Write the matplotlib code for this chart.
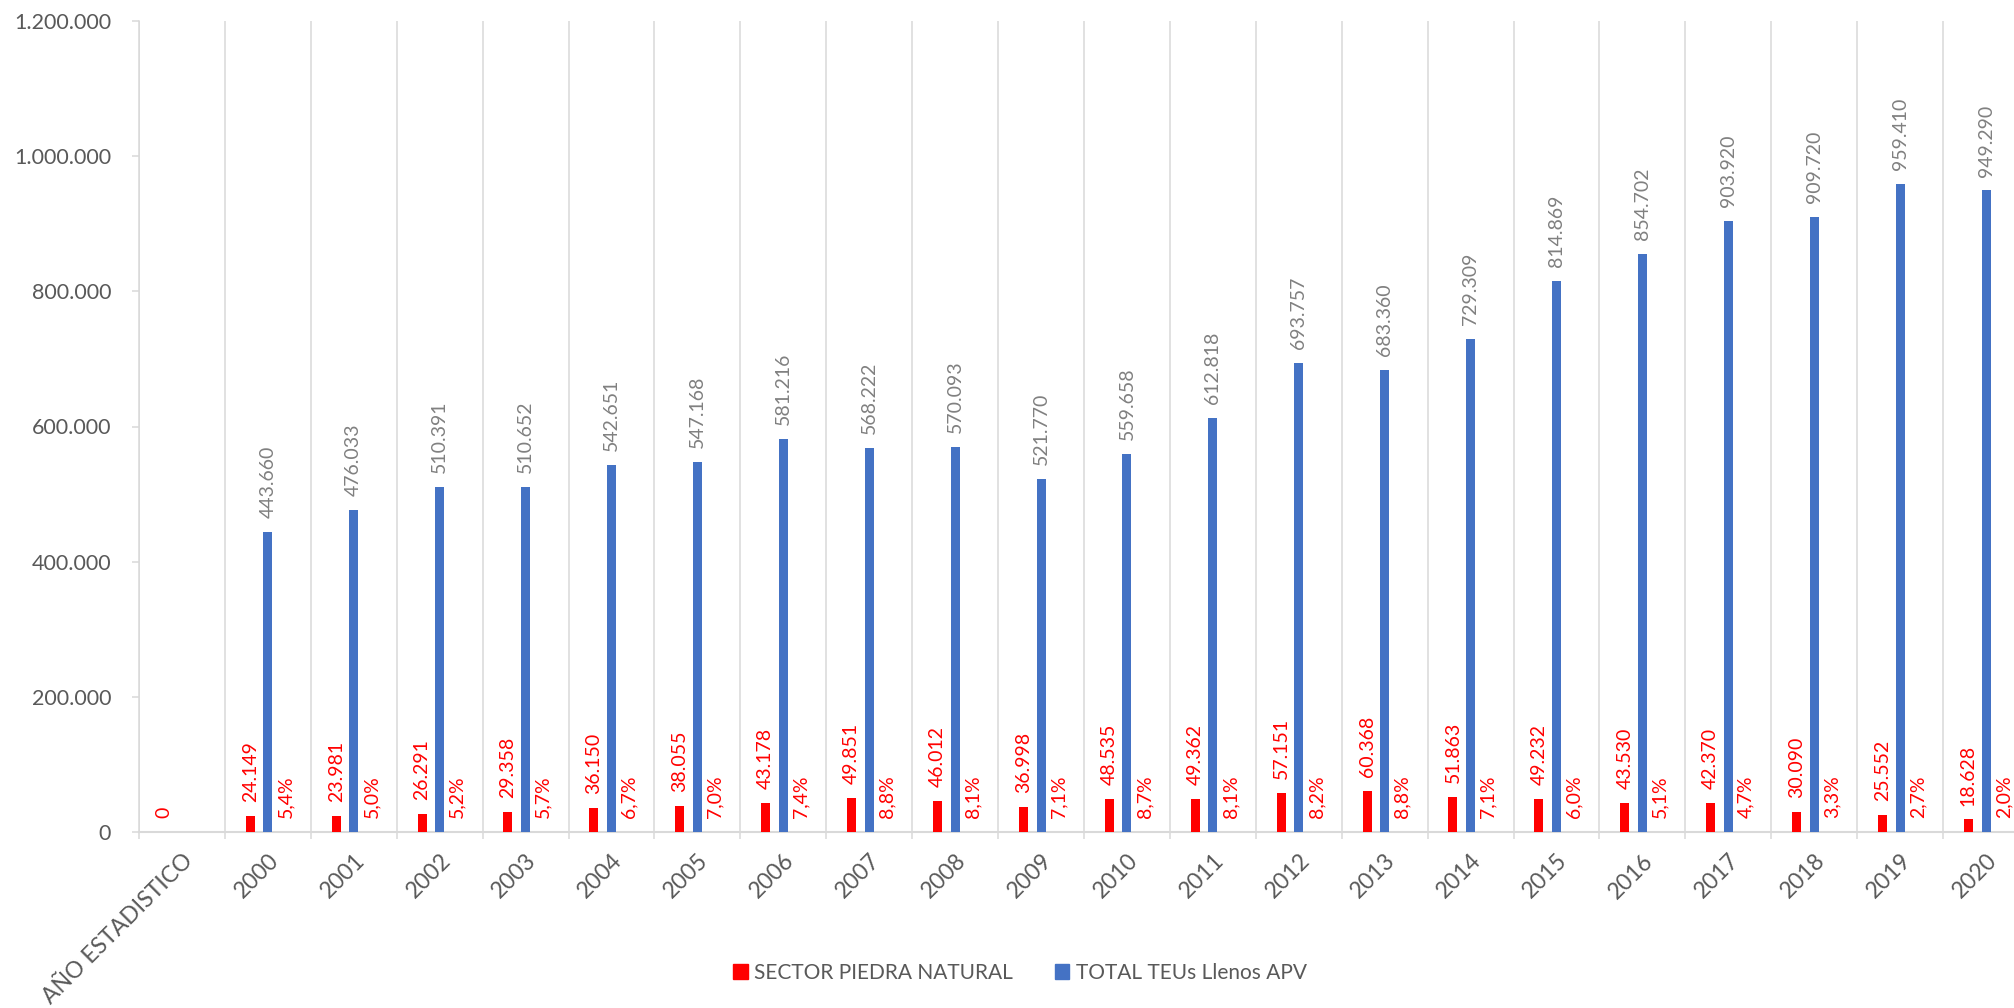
import numpy as np
import matplotlib
matplotlib.use("Agg")
import matplotlib.pyplot as plt
from matplotlib.patches import Patch
from matplotlib.ticker import FuncFormatter

plt.rcParams['font.family'] = ['Lato', 'DejaVu Sans']

# datos
categorias = ['AÑO ESTADISTICO'] + [str(a) for a in range(2000, 2021)]
piedra = [0, 24149, 23981, 26291, 29358, 36150, 38055, 43178, 49851, 46012,
          36998, 48535, 49362, 57151, 60368, 51863, 49232, 43530, 42370,
          30090, 25552, 18628]
teus = [443660, 476033, 510391, 510652, 542651, 547168, 581216, 568222,
        570093, 521770, 559658, 612818, 693757, 683360, 729309, 814869,
        854702, 903920, 909720, 959410, 949290]
porcentaje = [5.4, 5.0, 5.2, 5.7, 6.7, 7.0, 7.4, 8.8, 8.1, 7.1, 8.7, 8.1,
              8.2, 8.8, 7.1, 6.0, 5.1, 4.7, 3.3, 2.7, 2.0]

ROJO = '#FF0000'
AZUL = '#4472C4'
GRIS = '#D9D9D9'
TEXTO = '#595959'


def miles(v):
    return f"{int(v):,}".replace(',', '.')


fig = plt.figure(figsize=(20.15, 10.08), dpi=100)
ax = fig.add_axes([139/2015, 1-832/1008, (2029-139)/2015, (832-21)/1008])

x = np.arange(len(categorias))
xa = x[1:]
ancho = 0.105

b_rojo = ax.bar(x - 0.205, piedra, width=ancho, color=ROJO, zorder=3)
b_azul = ax.bar(xa, teus, width=ancho, color=AZUL, zorder=3)
# serie de porcentajes: barras invisibles, solo sirven para las etiquetas
b_pct = ax.bar(xa + 0.205, np.array(porcentaje)/100, width=ancho,
               color='none', zorder=3)

ax.bar_label(b_rojo, labels=[miles(v) for v in piedra], rotation=90,
             padding=10, color=ROJO, fontsize=14)
ax.bar_label(b_azul, labels=[miles(v) for v in teus], rotation=90,
             padding=10, color='#808080', fontsize=14)
ax.bar_label(b_pct, labels=[f"{p:.1f}".replace('.', ',') + '%' for p in porcentaje],
             rotation=90, padding=10, color=ROJO, fontsize=14)

ax.set_xlim(-0.5, len(categorias) - 0.5)
ax.set_ylim(0, 1200000)
ax.set_yticks(np.arange(0, 1200001, 200000))
ax.yaxis.set_major_formatter(FuncFormatter(lambda v, p: miles(v)))

ax.set_xticks(x)
ax.set_xticklabels(categorias, rotation=45, ha='right', va='top',
                   rotation_mode='anchor')
ax.set_xticks(np.arange(-0.5, len(categorias), 1), minor=True)
ax.grid(axis='x', which='minor', color=GRIS, linewidth=1.1, zorder=0)
ax.grid(axis='y', visible=False)

ax.tick_params(axis='x', which='major', length=0, pad=13, labelsize=16.5,
               labelcolor=TEXTO)
ax.tick_params(axis='x', which='minor', length=5, width=1.1, color=GRIS)
ax.tick_params(axis='y', length=5, width=1.1, color=GRIS, pad=15,
               labelsize=15.5, labelcolor=TEXTO)

for lado in ['top', 'right']:
    ax.spines[lado].set_visible(False)
ax.spines['left'].set_color(GRIS)
ax.spines['left'].set_linewidth(1.1)
ax.spines['bottom'].set_color(GRIS)
ax.spines['bottom'].set_linewidth(1.5)

handles = [Patch(color=ROJO, label='SECTOR PIEDRA NATURAL'),
           Patch(color=AZUL, label='TOTAL TEUs Llenos APV')]
fig.legend(handles=handles, loc='center', bbox_to_anchor=(1020/2015, 1-973/1008),
           ncol=2, frameon=False, fontsize=15, handlelength=0.7,
           handleheight=0.7, handletextpad=0.3, columnspacing=2.0,
           labelcolor=TEXTO)

fig.savefig('out.png', dpi=100)
